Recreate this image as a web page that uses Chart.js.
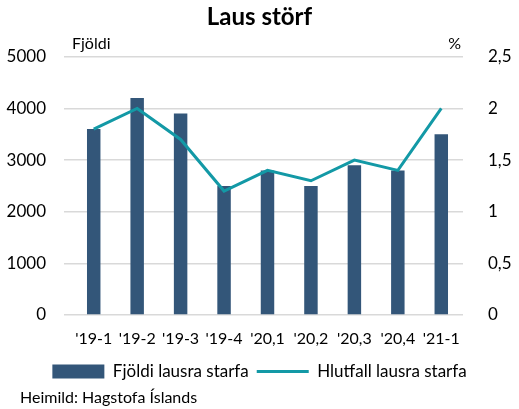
<!DOCTYPE html>
<html>
<head>
<meta charset="utf-8">
<script src="https://cdn.jsdelivr.net/npm/chart.js@4"></script>
<style>
  html, body { margin: 0; padding: 0; background: #fff; }
  #wrap { width: 519px; height: 409px; }
</style>
</head>
<body>
<div id="wrap"><canvas id="graf"></canvas></div>
<script>
var categories = ["'19-1", "'19-2", "'19-3", "'19-4", "'20,1", "'20,2", "'20,3", "'20,4", "'21-1"];
var fjoldi = [3600, 4200, 3900, 2500, 2800, 2500, 2900, 2800, 3500];
var hlutfall = [1.8, 2.0, 1.7, 1.2, 1.4, 1.3, 1.5, 1.4, 2.0];
var leftTicks = ['0', '1000', '2000', '3000', '4000', '5000'];
var rightTicks = ['0', '0,5', '1', '1,5', '2', '2,5'];

var FONT = 'Lato, "Open Sans", sans-serif';
Chart.defaults.font.family = FONT;
Chart.defaults.color = '#000';

var extraText = {
    id: 'extraText',
    afterDraw: function (chart) {
        var c = chart.ctx, a = chart.chartArea;
        c.save();
        c.fillStyle = '#000';
        c.font = '16px ' + FONT;
        c.textBaseline = 'middle';
        c.textAlign = 'left';
        c.fillText('Fjöldi', a.left, 44);
        c.textAlign = 'right';
        c.fillText('%', a.right - 2, 44);
        c.textAlign = 'left';
        c.fillText('Heimild: Hagstofa Íslands', 20, 398);
        c.restore();
    }
};

var ctx = document.getElementById('graf').getContext('2d');
var chart = new Chart(ctx, {
    type: 'bar',
    data: {
        labels: categories,
        datasets: [
            {
                type: 'line',
                label: 'Hlutfall lausra starfa',
                data: hlutfall,
                yAxisID: 'y1',
                borderColor: '#1399a6',
                backgroundColor: '#1399a6',
                borderWidth: 3,
                pointRadius: 0,
                tension: 0,
                order: 0
            },
            {
                label: 'Fjöldi lausra starfa',
                data: fjoldi,
                yAxisID: 'y',
                backgroundColor: '#335679',
                barPercentage: 0.31,
                categoryPercentage: 1,
                order: 1
            }
        ]
    },
    options: {
        responsive: true,
        maintainAspectRatio: false,
        animation: false,
        layout: { padding: { top: 0, bottom: 19, left: 0, right: 0 } },
        scales: {
            x: {
                grid: { display: false },
                border: { display: false },
                ticks: { font: { size: 16 }, maxRotation: 0, autoSkip: false, padding: 6 },
                afterFit: function (s) { s.height = 40; }
            },
            y: {
                position: 'left',
                min: 0,
                max: 5000,
                afterBuildTicks: function (s) { s.ticks = [0, 1000, 2000, 3000, 4000, 5000].map(function (v) { return { value: v }; }); },
                grid: { color: '#d9d9d9', lineWidth: 1.5 },
                border: { display: false },
                ticks: {
                    font: { size: 17 },
                    padding: 18,
                    callback: function (v, i) { return leftTicks[i]; }
                },
                afterFit: function (s) { s.width = 72; }
            },
            y1: {
                position: 'right',
                min: 0,
                max: 2.5,
                afterBuildTicks: function (s) { s.ticks = [0, 0.5, 1, 1.5, 2, 2.5].map(function (v) { return { value: v }; }); },
                grid: { display: false },
                border: { display: false },
                ticks: {
                    font: { size: 17 },
                    padding: 17,
                    callback: function (v, i) { return rightTicks[i]; }
                },
                afterFit: function (s) { s.width = 56; }
            }
        },
        plugins: {
            title: {
                display: true,
                text: 'Laus störf',
                font: { size: 24, weight: 'bold' },
                color: '#000',
                padding: { top: 3, bottom: 25 }
            },
            legend: {
                position: 'bottom',
                reverse: true,
                labels: {
                    usePointStyle: true,
                    pointStyleWidth: 52,
                    boxHeight: 14,
                    padding: 8,
                    font: { size: 17 },
                    color: '#000',
                    generateLabels: function (chart) {
                        return chart.data.datasets.map(function (ds, i) {
                            var isLine = ds.type === 'line';
                            return {
                                text: ds.label,
                                fillStyle: isLine ? ds.borderColor : ds.backgroundColor,
                                strokeStyle: isLine ? ds.borderColor : ds.backgroundColor,
                                lineWidth: isLine ? 3 : 0,
                                pointStyle: isLine ? 'line' : 'rect',
                                datasetIndex: i,
                                hidden: false
                            };
                        });
                    }
                }
            },
            tooltip: { enabled: false }
        }
    },
    plugins: [extraText]
});
</script>
</body>
</html>
